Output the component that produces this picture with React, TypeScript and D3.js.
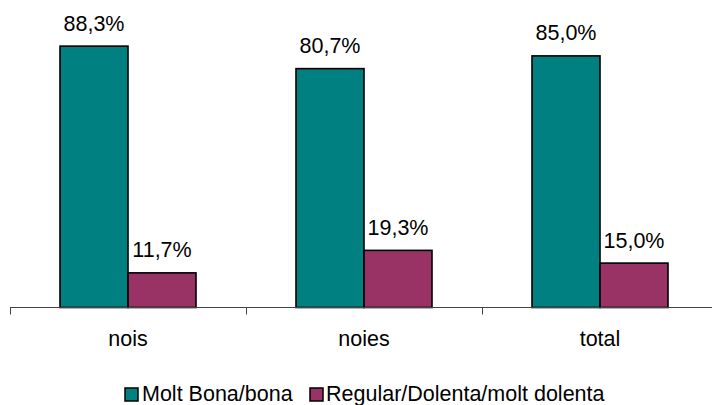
import React from "react";
import * as d3 from "d3";

const categories = ["nois", "noies", "total"];
const seriesNames = ["Molt Bona/bona", "Regular/Dolenta/molt dolenta"];
const goodValues = [88.3, 80.7, 85.0];
const badValues = [11.7, 19.3, 15.0];
const colors = ["#008080", "#993366"];

const W = 712;
const H = 405;
const x0 = 10;
const x1 = 718;
const baseY = 307.5;

export default function App() {
  const x = d3.scaleBand<string>().domain(categories).range([x0, x1]).paddingInner(0).paddingOuter(0);
  const inner = d3.scaleBand<number>().domain([0, 1]).range([0, 136]);
  const y = d3.scaleLinear().domain([0, 100]).range([baseY, baseY - 296]);
  const series = [goodValues, badValues];
  const fmt = (v: number) => v.toFixed(1).replace(".", ",") + "%";
  const font = "'Liberation Sans', Arial, sans-serif";
  const ticks = [...categories.map((c) => x(c)!), x1];
  const fs = 21.5;

  return (
    <svg width={W} height={H} style={{ position: "absolute", left: 0, top: 0 }} fontFamily={font}>
      <rect width={W} height={H} fill="#fff" />
      {categories.map((c, ci) => {
        const gx = x(c)! + x.bandwidth() / 2 - 68;
        return (
          <g key={c}>
            {series.map((vals, si) => {
              const bx = gx + inner(si)!;
              const top = y(vals[ci]);
              return (
                <g key={si}>
                  <rect x={bx} y={top} width={inner.bandwidth()} height={baseY - top} fill={colors[si]} stroke="#000" strokeWidth={1.6} />
                  <text x={bx + inner.bandwidth() / 2} y={top - 15.5} textAnchor="middle" fontSize={fs} fill="#000">
                    {fmt(vals[ci])}
                  </text>
                </g>
              );
            })}
            <text x={x(c)! + x.bandwidth() / 2} y={346} textAnchor="middle" fontSize={fs} fill="#000">
              {c}
            </text>
          </g>
        );
      })}
      <line x1={x0} x2={x1} y1={baseY} y2={baseY} stroke="#444" strokeWidth={1} />
      {ticks.map((t, i) => (
        <line key={i} x1={t + 0.5} x2={t + 0.5} y1={baseY} y2={baseY + 7} stroke="#444" strokeWidth={1} />
      ))}
      <g>
        <rect x={125} y={388} width={13} height={13} fill={colors[0]} stroke="#000" strokeWidth={1.5} />
        <text x={142} y={401} fontSize={fs} fill="#000">{seriesNames[0]}</text>
        <rect x={310} y={388} width={13} height={13} fill={colors[1]} stroke="#000" strokeWidth={1.5} />
        <text x={326} y={401} fontSize={fs} fill="#000">{seriesNames[1]}</text>
      </g>
    </svg>
  );
}
